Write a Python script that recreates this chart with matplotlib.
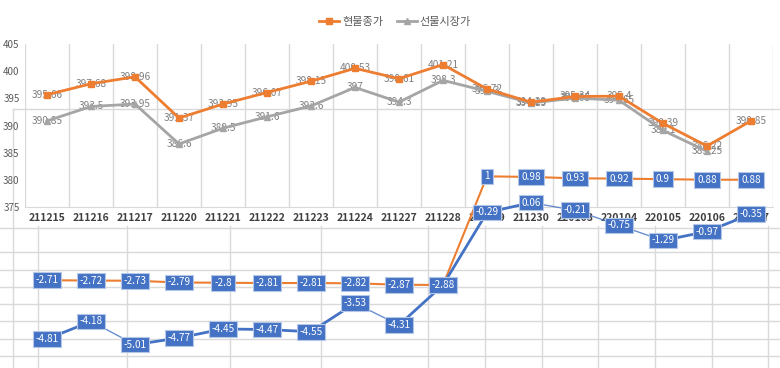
import matplotlib
matplotlib.use("Agg")
import matplotlib.pyplot as plt
import numpy as np

plt.rcParams['font.family'] = ['Noto Sans CJK KR', 'DejaVu Sans']

# ---------------- data ----------------
dates = ['211215', '211216', '211217', '211220', '211221', '211222', '211223', '211224',
         '211227', '211228', '211229', '211230', '220103', '220104', '220105', '220106', '220107']

spot_close = [395.66, 397.68, 398.96, 391.37, 393.95, 396.07, 398.15, 400.53,
              398.61, 401.21, 396.72, 394.29, 395.34, 395.4, 390.39, 386.22, 390.85]
futures_price = [390.85, 393.5, 393.95, 386.6, 389.5, 391.6, 393.6, 397,
                 394.3, 398.3, 396.3, 394.15, 395.05, 394.65, 389.1, 385.25]

spread_orange = [-2.71, -2.72, -2.73, -2.79, -2.8, -2.81, -2.81, -2.82,
                 -2.87, -2.88, 1, 0.98, 0.93, 0.92, 0.9, 0.88, 0.88]
spread_blue = [-4.81, -4.18, -5.01, -4.77, -4.45, -4.47, -4.55, -3.53,
               -4.31, -2.88, -0.29, 0.06, -0.21, -0.75, -1.29, -0.97, -0.35]

legend_labels = ['현물종가', '선물시장가']
y_ticks = [375, 380, 385, 390, 395, 400, 405]

ORANGE = '#ED7D31'
GRAY = '#A5A5A5'
BLUE = '#4472C4'
GRID = '#D9D9D9'

W, H = 780, 368
fig = plt.figure(figsize=(W / 100, H / 100), dpi=100)

# ---------------- sheet background (pixel coords) ----------------
ax0 = fig.add_axes([0, 0, 1, 1], zorder=0)
ax0.set_xlim(0, W)
ax0.set_ylim(H, 0)
ax0.axis('off')
for yy in [228, 252, 270, 287, 304, 321, 339, 356]:
    ax0.plot([0, W], [yy, yy], color=GRID, lw=1)
for xx in [38, 127, 230, 321, 428, 485, 542, 598, 655, 712, 768]:
    ax0.plot([xx, xx], [226, H], color=GRID, lw=1)
ax0.plot([13, 13], [109, H], color=GRID, lw=1)
ax0.plot([13, W], [109, 109], color=GRID, lw=1)

# ---------------- upper chart ----------------
L, R = 25, 773
top, bot = 44, 207
ax1 = fig.add_axes([L / W, 1 - bot / H, (R - L) / W, (bot - top) / H], zorder=1)
ax1.set_facecolor('none')
x = np.arange(len(dates))
ax1.set_xlim(-0.5, len(dates) - 0.5)
ax1.set_ylim(375, 405)

ax1.plot(x, spot_close, color=ORANGE, lw=2, marker='s', ms=5, zorder=5, label=legend_labels[0])
xf = np.arange(len(futures_price))
ax1.plot(xf, futures_price, color=GRAY, lw=2, marker='^', ms=5, zorder=4, label=legend_labels[1])

for i, v in enumerate(spot_close):
    ax1.text(i, v, f"{v:g}", ha='center', va='center', fontsize=7.3, color='#808080', zorder=3)
for i, v in enumerate(futures_price):
    ax1.text(i, v, f"{v:g}", ha='center', va='center', fontsize=7.3, color='#808080', zorder=3)

ax1.set_yticks(y_ticks)
ax1.set_yticklabels([str(t) for t in y_ticks])
ax1.tick_params(axis='y', length=0, pad=4, labelsize=7, labelcolor='#595959')
ax1.set_xticks(x)
ax1.set_xticklabels(dates)
ax1.tick_params(axis='x', length=0, pad=4, labelsize=7.5, labelcolor='#404040')
for t in ax1.get_xticklabels():
    t.set_fontweight('bold')
ax1.set_xticks(np.arange(-0.5, len(dates), 1), minor=True)
ax1.tick_params(axis='x', which='minor', length=0)
ax1.grid(True, which='minor', axis='x', color=GRID, lw=1)
ax1.grid(False, which='major')
for s in ['top', 'right', 'left']:
    ax1.spines[s].set_visible(False)
ax1.spines['bottom'].set_color(GRID)

leg = ax1.legend(loc='center', bbox_to_anchor=(395 / W, 1 - 22 / H), bbox_transform=fig.transFigure,
                 ncol=2, frameon=False, fontsize=8, handlelength=1.8, columnspacing=1.2,
                 handletextpad=0.3)
for t in leg.get_texts():
    t.set_color('#595959')

# ---------------- lower chart (overlay) ----------------
ax2 = fig.add_axes([L / W, 0, (R - L) / W, 1], zorder=2)
ax2.set_facecolor('none')
ax2.axis('off')
ax2.set_xlim(-0.5, len(dates) - 0.5)
ppu = 28.0
ax2.set_ylim(-2.88 - (H - 285) / ppu, -2.88 + 285 / ppu)

ax2.plot(x, spread_orange, color=ORANGE, lw=1.5, zorder=2)
for i in range(len(spread_blue) - 1):
    a, b = spread_blue[i], spread_blue[i + 1]
    lw = 2.0 if b >= a - 0.1 else 1.0
    ax2.plot([i, i + 1], [a, b], color=BLUE, lw=lw, zorder=2,
             alpha=1.0 if lw > 1.5 else 0.8, solid_capstyle='round')

box = dict(boxstyle='square,pad=0.28', fc=BLUE, ec='#B4C7E7', lw=0.8)
for i, v in enumerate(spread_blue):
    ax2.text(i, v, f"{v:g}", ha='center', va='center', fontsize=7.2, color='white',
             bbox=box, zorder=4)
for i, v in enumerate(spread_orange):
    ax2.text(i, v, f"{v:g}", ha='center', va='center', fontsize=7.2, color='white',
             bbox=box, zorder=4)

fig.savefig('out.png', dpi=100)
